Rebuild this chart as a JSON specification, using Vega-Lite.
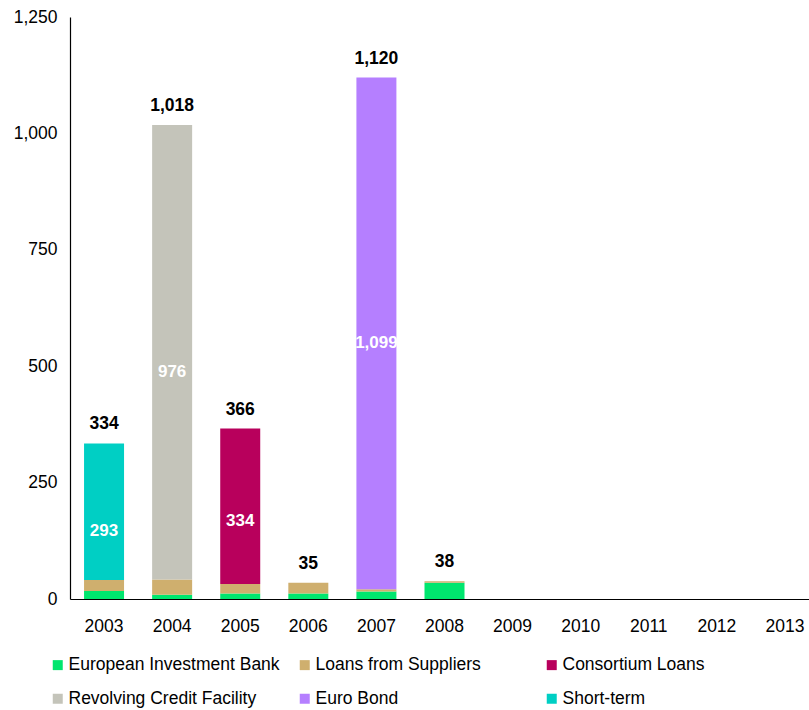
{
  "$schema": "https://vega.github.io/schema/vega-lite/v6.json",
  "width": 739,
  "height": 582,
  "autosize": "none",
  "padding": {"left": 70, "top": 17, "right": 0, "bottom": 111},
  "config": {
    "font": "Liberation Sans",
    "view": {"stroke": null},
    "axis": {"grid": false, "domainColor": "#000000", "domainWidth": 1.2, "ticks": false, "labelColor": "#000000", "labelFontSize": 17.5, "labelFont": "Liberation Sans", "title": null}
  },
  "data": {
    "values": [
      {"year": "2003", "series": "European Investment Bank", "ord": 1, "value": 17},
      {"year": "2003", "series": "Loans from Suppliers", "ord": 2, "value": 24},
      {"year": "2003", "series": "Short-term", "ord": 6, "value": 293},
      {"year": "2004", "series": "European Investment Bank", "ord": 1, "value": 9},
      {"year": "2004", "series": "Loans from Suppliers", "ord": 2, "value": 33},
      {"year": "2004", "series": "Revolving Credit Facility", "ord": 4, "value": 976},
      {"year": "2005", "series": "European Investment Bank", "ord": 1, "value": 12},
      {"year": "2005", "series": "Loans from Suppliers", "ord": 2, "value": 20},
      {"year": "2005", "series": "Consortium Loans", "ord": 3, "value": 334},
      {"year": "2006", "series": "European Investment Bank", "ord": 1, "value": 12},
      {"year": "2006", "series": "Loans from Suppliers", "ord": 2, "value": 23},
      {"year": "2007", "series": "European Investment Bank", "ord": 1, "value": 16},
      {"year": "2007", "series": "Loans from Suppliers", "ord": 2, "value": 5},
      {"year": "2007", "series": "Euro Bond", "ord": 5, "value": 1099},
      {"year": "2008", "series": "European Investment Bank", "ord": 1, "value": 35},
      {"year": "2008", "series": "Loans from Suppliers", "ord": 2, "value": 3}
    ]
  },
  "encoding": {
    "x": {
      "field": "year",
      "type": "nominal",
      "sort": null,
      "scale": {
        "domain": ["2003","2004","2005","2006","2007","2008","2009","2010","2011","2012","2013"],
        "range": [0, 749],
        "paddingInner": 0.41,
        "paddingOuter": 0.205
      },
      "axis": {"labelAngle": 0, "labelPadding": 18}
    }
  },
  "layer": [
    {
      "mark": {"type": "bar", "size": 40},
      "encoding": {
        "y": {
          "field": "value",
          "type": "quantitative",
          "stack": "zero",
          "scale": {"domain": [0, 1250], "nice": false},
          "axis": {"values": [0, 250, 500, 750, 1000, 1250], "format": ",.0f", "labelPadding": 13}
        },
        "order": {"field": "ord", "type": "quantitative", "sort": "ascending"},
        "color": {
          "field": "series",
          "type": "nominal",
          "scale": {
            "domain": ["European Investment Bank", "Loans from Suppliers", "Consortium Loans", "Revolving Credit Facility", "Euro Bond", "Short-term"],
            "range": ["#00E66E", "#CFAF6E", "#B8005C", "#C4C4BA", "#B57FFF", "#00CFC4"]
          },
          "legend": {
            "title": null,
            "orient": "none",
            "legendX": -21,
            "legendY": 639,
            "direction": "horizontal",
            "columns": 3,
            "gridAlign": "all",
            "columnPadding": 16,
            "rowPadding": 15,
            "symbolType": "square",
            "symbolSize": 100,
            "symbolStrokeWidth": 0,
            "symbolOffset": 0,
            "labelOffset": 2,
            "labelFontSize": 17.5,
            "labelColor": "#000000",
            "labelLimit": 300
          }
        }
      }
    },
    {
      "transform": [{"filter": "datum.value > 100"}],
      "mark": {"type": "text", "color": "#ffffff", "fontWeight": "bold", "fontSize": 17, "baseline": "middle"},
      "encoding": {
        "y": {"field": "value", "type": "quantitative", "stack": "zero", "bandPosition": 0.5},
        "order": {"field": "ord", "type": "quantitative", "sort": "ascending"},
        "text": {"field": "value", "type": "quantitative", "format": ",.0f"}
      }
    },
    {
      "transform": [{"aggregate": [{"op": "sum", "field": "value", "as": "total"}], "groupby": ["year"]}],
      "mark": {"type": "text", "color": "#000000", "fontWeight": "bold", "fontSize": 17.5, "baseline": "middle", "dy": -19},
      "encoding": {
        "y": {"field": "total", "type": "quantitative"},
        "text": {"field": "total", "type": "quantitative", "format": ",.0f"}
      }
    }
  ]
}
